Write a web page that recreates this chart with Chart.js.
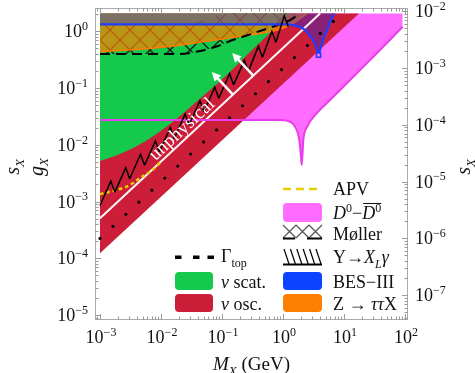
<!DOCTYPE html>
<html>
<head>
<meta charset="utf-8">
<script src="https://cdn.jsdelivr.net/npm/chart.js@4.4.0/dist/chart.umd.min.js"></script>
<style>
  html, body { margin: 0; padding: 0; background: #fff; }
  #wrap { width: 475px; height: 373px; }
</style>
</head>
<body>
<div id="wrap"><canvas id="limits" width="475" height="373"></canvas></div>
<script>
// Limits on the coupling g_X versus the mass M_X (GeV)
const G_TOP = 2.05;                 // upper edge of all shaded regions
const S_PER_G = Math.pow(10, -2.35); // right axis: s_X = g_X * S_PER_G
const M_MIN = Math.pow(10, -3.082), M_MAX = Math.pow(10, 2.049);
const G_MIN = Math.pow(10, -5.088), G_MAX = Math.pow(10, 0.41);

const xDecades = [-3, -2, -1, 0, 1, 2];
const gDecades = [0, -1, -2, -3, -4, -5];
const sDecades = [-2, -3, -4, -5, -6, -7];

// nu oscillations: lower edge of the excluded band
const oscM = [0.001, 17.6];
const oscG = [1.22e-4, 2.05];

// nu scattering
const scatM = [0.001, 0.001762, 0.00375, 0.00798, 0.01698, 0.0361, 0.0635, 0.1352, 0.2877, 0.612, 1.303];
const scatG = [0.00518, 0.00634, 0.00912, 0.01486, 0.0273, 0.0545, 0.0923, 0.1914, 0.4305, 0.931, 2.05];

// D0 - D0bar mixing
const mixM = [0.001, 0.3, 0.893, 1.151, 1.574, 1.849, 1.972, 2.027, 2.153, 2.5, 3.565, 5.89, 14.05, 38.9, 91.6];
const mixG = [0.0273, 0.0273, 0.0273, 0.0266, 0.0208, 0.01213, 0.00616, 0.0044, 0.01213, 0.0208, 0.0358, 0.0615, 0.156, 0.467, 1.202];

// Moller scattering (bound and top of the hatched band)
const mollerM = [0.001, 0.02046, 0.04355, 0.0767, 0.1352, 0.2382, 0.4198, 0.7396, 1.303, 1.901];
const mollerG = [0.397, 0.397, 0.449, 0.527, 0.673, 0.824, 1.009, 1.239, 1.578, 2.05];
const mollerTopG = [1.35, 1.35, 1.52, 1.79, 2.05, 2.05, 2.05, 2.05, 2.05, 2.05];

// Z -> tau tau X
const zM = [0.001, 0.00964, 0.0767, 0.2877, 0.798, 1.406, 2.046, 2.47];
const zG = [0.436, 0.517, 0.701, 0.859, 1.052, 1.342, 1.783, 2.05];

// BES-III
const besM = [0.001, 1.164, 1.574, 1.901, 2.296, 2.773, 3.221, 3.606, 3.819, 4.046, 4.529, 5.26, 6.12, 6.85];
const besG = [1.326, 1.326, 1.262, 1.188, 1.052, 0.825, 0.647, 0.468, 0.381, 0.468, 0.701, 1.052, 1.578, 2.05];

// Upsilon -> X_L gamma
const upsM = [0.001, 0.01, 0.1, 0.316, 0.631, 1.0, 1.259, 1.585];
const upsG = [0.000851, 0.00794, 0.0741, 0.229, 0.501, 0.891, 1.259, 2.05];

// atomic parity violation
const apvM = [0.001, 0.001132, 0.001875, 0.003105, 0.004529, 0.00661, 0.00964];
const apvG = [0.00135, 0.001393, 0.001596, 0.001954, 0.002594, 0.00335, 0.004764];

// top width bound
const topM = [0.001, 9.17];
const topG = [2.24e-4, 2.05];

// edge of the unphysical region, with its arrows
const physM = [0.001, 4.05];
const physG = [5.06e-4, 2.05];
const arrowM = [0.151, 0.326];
const arrowG = [0.0764, 0.165];

const SERIF = '"Liberation Serif", "DejaVu Serif", serif';
const pts = (ms, gs) => ms.map((m, i) => ({ x: m, y: gs[i] }));

const canvas = document.getElementById('limits');
const tile = document.createElement('canvas');
tile.width = 20; tile.height = 20;
const tc = tile.getContext('2d');
tc.strokeStyle = '#1a1a1a';
tc.lineWidth = 1.3;
tc.beginPath();
tc.moveTo(0, 0); tc.lineTo(20, 20);
tc.moveTo(20, 0); tc.lineTo(0, 20);
tc.stroke();
const crossHatch = canvas.getContext('2d').createPattern(tile, 'repeat');

const COLORS = {
  red: '#cc1e38',
  green: '#14c94c',
  pink: '#ff6cff',
  pinkLine: '#e83de8',
  blue: '#0b44ff',
  orange: '#ff7f00',
  yellow: '#e8cf00',
};

// draws text pieces side by side; kinds: n, i, sub, isub, sup, isup
function rich(ctx, parts, x, y, size, draw = true) {
  let cx = x;
  const xs = [];
  for (const [t, k] of parts) {
    const small = /sub|sup/.test(k);
    const fs = small ? Math.round(size * 0.66) : size;
    ctx.font = (k[0] === 'i' ? 'italic ' : '') + fs + 'px ' + SERIF;
    const dy = /sub/.test(k) ? size * 0.25 : /sup/.test(k) ? -size * 0.4 : 0;
    xs.push(cx);
    if (draw) ctx.fillText(t, cx, y + dy);
    cx += ctx.measureText(t).width;
  }
  xs.push(cx);
  return xs;
}
const richWidth = (ctx, parts, size) => {
  const xs = rich(ctx, parts, 0, 0, size, false);
  return xs[xs.length - 1];
};
const expLabel = (e) => [['10', 'n'], [String(e).replace('-', '\u2212'), 'sup']];

function arrow(ctx, x0, y0, x1, y1) {
  const a = Math.atan2(y1 - y0, x1 - x0);
  const hl = 9, hw = 4.5;
  ctx.beginPath();
  ctx.moveTo(x0, y0);
  ctx.lineTo(x1 - hl * 0.7 * Math.cos(a), y1 - hl * 0.7 * Math.sin(a));
  ctx.stroke();
  ctx.beginPath();
  ctx.moveTo(x1, y1);
  ctx.lineTo(x1 - hl * Math.cos(a) + hw * Math.sin(a), y1 - hl * Math.sin(a) - hw * Math.cos(a));
  ctx.lineTo(x1 - hl * Math.cos(a) - hw * Math.sin(a), y1 - hl * Math.sin(a) + hw * Math.cos(a));
  ctx.closePath();
  ctx.fill();
}

const decor = {
  id: 'decor',
  afterDatasetsDraw(chart) {
    const { ctx, chartArea: area, scales: { x, y } } = chart;
    ctx.save();
    ctx.beginPath();
    ctx.rect(area.left, area.top, area.right - area.left, area.bottom - area.top);
    ctx.clip();

    // Upsilon bound, drawn as a row of saw teeth along the curve
    const up = upsM.map((m, i) => ({ x: x.getPixelForValue(m), y: y.getPixelForValue(upsG[i]) }));
    const step = 20;
    const base = [up[0]];
    let acc = 0;
    for (let i = 1; i < up.length; i++) {
      const a = up[i - 1], b = up[i];
      const len = Math.hypot(b.x - a.x, b.y - a.y);
      let t = step - acc;
      while (t <= len) {
        base.push({ x: a.x + (b.x - a.x) * t / len, y: a.y + (b.y - a.y) * t / len });
        t += step;
      }
      acc = len - (t - step);
    }
    ctx.strokeStyle = '#000';
    ctx.lineWidth = 1.5;
    ctx.beginPath();
    for (let i = 0; i < base.length - 1; i++) {
      const b0 = base[i], b1 = base[i + 1];
      ctx.moveTo(b0.x, b0.y);
      ctx.lineTo(b1.x - 4, b1.y - 11);
      ctx.lineTo(b1.x, b1.y);
    }
    ctx.stroke();

    // unphysical region: label and arrows
    const p0 = { x: x.getPixelForValue(physM[0]), y: y.getPixelForValue(physG[0]) };
    const p1 = { x: x.getPixelForValue(physM[1]), y: y.getPixelForValue(physG[1]) };
    const ang = Math.atan2(p1.y - p0.y, p1.x - p0.x);
    const nx = Math.sin(ang), ny = -Math.cos(ang); // normal towards upper left
    ctx.fillStyle = '#fff';
    ctx.strokeStyle = '#fff';
    ctx.lineWidth = 2.5;
    arrowM.forEach((m, i) => {
      const tx = x.getPixelForValue(m), ty = y.getPixelForValue(arrowG[i]);
      arrow(ctx, tx, ty, tx + nx * 31, ty + ny * 31);
    });
    const lm = 0.028, lg = 0.01417;
    const lx = x.getPixelForValue(lm) + nx * 9, ly = y.getPixelForValue(lg) + ny * 9;
    ctx.translate(lx, ly);
    ctx.rotate(ang);
    ctx.font = '19px ' + SERIF;
    ctx.textAlign = 'center';
    ctx.textBaseline = 'middle';
    ctx.fillText('unphysical', 0, 0);
    ctx.restore();
  },
  afterDraw(chart) {
    const { ctx, chartArea: area, scales: { x, y, y2 } } = chart;
    ctx.save();

    // frame
    ctx.strokeStyle = '#ababab';
    ctx.lineWidth = 1;
    ctx.strokeRect(area.left + 0.5, area.top + 0.5, area.right - area.left - 1, area.bottom - area.top - 1);

    // inward ticks on all four sides
    const ticks = (scale, eFrom, eTo, fn) => {
      for (let e = eFrom; e <= eTo; e++) {
        for (let d = 1; d <= 9; d++) {
          const v = d * Math.pow(10, e);
          if (v < scale.min || v > scale.max) continue;
          fn(Math.round(scale.getPixelForValue(v)) + 0.5, d === 1 ? 6 : 3.5);
        }
      }
    };
    ctx.strokeStyle = '#9a9a9a';
    ctx.beginPath();
    ticks(x, -4, 2, (p, l) => {
      ctx.moveTo(p, area.bottom); ctx.lineTo(p, area.bottom - l);
      ctx.moveTo(p, area.top); ctx.lineTo(p, area.top + l);
    });
    ticks(y, -6, 0, (p, l) => { ctx.moveTo(area.left, p); ctx.lineTo(area.left + l, p); });
    ticks(y2, -8, -1, (p, l) => { ctx.moveTo(area.right, p); ctx.lineTo(area.right - l, p); });
    ctx.stroke();

    // tick labels
    ctx.fillStyle = '#111';
    ctx.textBaseline = 'alphabetic';
    ctx.textAlign = 'left';
    xDecades.forEach((e) => {
      const parts = expLabel(e);
      const w = richWidth(ctx, parts, 18);
      rich(ctx, parts, x.getPixelForValue(Math.pow(10, e)) - w / 2 + 1, 343, 18);
    });
    gDecades.forEach((e) => {
      const parts = expLabel(e);
      const w = richWidth(ctx, parts, 18);
      rich(ctx, parts, 88 - w, y.getPixelForValue(Math.pow(10, e)) + 6, 18);
    });
    sDecades.forEach((e) => {
      rich(ctx, expLabel(e), 415, y2.getPixelForValue(Math.pow(10, e)) + 6, 18);
    });

    // axis titles
    const title = [['M', 'i'], ['X', 'isub'], [' (GeV)', 'n']];
    rich(ctx, title, 251.5 - richWidth(ctx, title, 19) / 2, 370, 19);
    const vertical = (parts, cx, cy) => {
      ctx.save();
      ctx.translate(cx, cy);
      ctx.rotate(-Math.PI / 2);
      rich(ctx, parts, -richWidth(ctx, parts, 20) / 2, 0, 20);
      ctx.restore();
    };
    vertical([['s', 'i'], ['X', 'isub']], 19, 167);
    vertical([['g', 'i'], ['X', 'isub']], 43, 167);
    vertical([['s', 'i'], ['X', 'isub']], 470, 167);

    // legend
    const box = (bx, by, w, h, color) => {
      ctx.fillStyle = color;
      ctx.beginPath();
      ctx.roundRect(bx, by, w, h, 4);
      ctx.fill();
    };
    // left column
    ctx.fillStyle = '#000';
    [175, 193, 207.5].forEach((dx) => ctx.fillRect(dx, 255.5, 6.5, 3.5));
    box(175, 272, 38, 18, COLORS.green);
    box(175, 294, 38, 18, COLORS.red);
    ctx.fillStyle = '#111';
    rich(ctx, [['\u0393', 'n'], ['top', 'sub']], 221, 262, 18);
    rich(ctx, [['\u03bd', 'i'], [' scat.', 'n']], 221, 288, 18);
    rich(ctx, [['\u03bd', 'i'], [' osc.', 'n']], 221, 310, 18);

    // right column
    ctx.strokeStyle = COLORS.yellow;
    ctx.lineWidth = 2.5;
    ctx.setLineDash([8, 5]);
    ctx.beginPath(); ctx.moveTo(283, 189); ctx.lineTo(322, 189); ctx.stroke();
    ctx.setLineDash([]);
    box(283, 203, 39, 19, COLORS.pink);
    // Moller: crosses above a dashed base
    ctx.strokeStyle = '#555';
    ctx.lineWidth = 1.2;
    ctx.beginPath();
    [283, 296, 309].forEach((cx) => {
      ctx.moveTo(cx, 225); ctx.lineTo(cx + 13, 238);
      ctx.moveTo(cx + 13, 225); ctx.lineTo(cx, 238);
    });
    ctx.stroke();
    ctx.strokeStyle = '#000';
    ctx.lineWidth = 2;
    ctx.beginPath();
    ctx.moveTo(283, 238.5); ctx.lineTo(295, 238.5);
    ctx.moveTo(307, 238.5); ctx.lineTo(322, 238.5);
    ctx.stroke();
    // Upsilon: base line with hatches
    ctx.lineWidth = 1.2;
    ctx.beginPath();
    for (let i = 0; i < 6; i++) {
      const bx = 289 + i * 6.4;
      ctx.moveTo(bx - 5, 249); ctx.lineTo(bx, 264);
    }
    ctx.stroke();
    ctx.lineWidth = 2;
    ctx.beginPath(); ctx.moveTo(283, 264.5); ctx.lineTo(322, 264.5); ctx.stroke();
    box(283, 272, 39, 18, COLORS.blue);
    box(283, 294, 39, 18, COLORS.orange);

    ctx.fillStyle = '#111';
    rich(ctx, [['APV', 'n']], 333, 195, 18);
    const dd = rich(ctx, [['D', 'i'], ['0', 'sup'], ['\u2212', 'n'], ['D', 'i'], ['0', 'sup']], 333, 219, 18);
    ctx.strokeStyle = '#111';
    ctx.lineWidth = 1;
    ctx.beginPath(); ctx.moveTo(dd[3] + 1, 203.5); ctx.lineTo(dd[5], 203.5); ctx.stroke();
    rich(ctx, [['M\u00f8ller', 'n']], 333, 240, 18);
    rich(ctx, [['\u03a5\u2192', 'n'], ['X', 'i'], ['L', 'isub'], ['\u03b3', 'i']], 333, 263, 18);
    rich(ctx, [['BES\u2212III', 'n']], 333, 288, 18);
    rich(ctx, [['Z \u2192 ', 'n'], ['\u03c4\u03c4', 'i'], ['X', 'n']], 333, 310, 18);

    ctx.restore();
  },
};

const fillTop = { value: G_TOP };
const curve = { cubicInterpolationMode: 'monotone', pointRadius: 0 };

new Chart(canvas.getContext('2d'), {
  type: 'line',
  data: {
    datasets: [
      { ...curve, label: 'D0 mixing region', data: pts(mixM, mixG), fill: fillTop,
        backgroundColor: COLORS.pink, borderWidth: 0, order: 20 },
      { label: 'nu osc.', data: pts(oscM, oscG), fill: fillTop, pointRadius: 0,
        backgroundColor: COLORS.red, borderWidth: 0, order: 19 },
      { ...curve, label: 'nu scat.', data: pts(scatM, scatG), fill: fillTop,
        backgroundColor: COLORS.green, borderWidth: 0, order: 18 },
      { ...curve, label: 'Moller band', data: pts(mollerM, mollerG), fill: 4,
        backgroundColor: crossHatch, borderWidth: 0, order: 17 },
      { ...curve, label: 'Moller band top', data: pts(mollerM, mollerTopG), fill: false,
        borderWidth: 0, order: 17 },
      { ...curve, label: 'Z -> tau tau X', data: pts(zM, zG), fill: fillTop,
        backgroundColor: 'rgba(255,128,0,0.7)', borderColor: '#ff7a00', borderWidth: 1.5, order: 16 },
      { ...curve, label: 'BES-III region', data: pts(besM, besG), fill: fillTop,
        backgroundColor: 'rgba(0,40,255,0.33)', borderWidth: 0, order: 15 },
      { label: 'unphysical', data: pts(physM, physG), fill: false, pointRadius: 0,
        borderColor: '#fff6f6', borderWidth: 2, order: 14 },
      { label: 'Gamma top', data: pts(topM, topG), fill: false, pointRadius: 0,
        borderColor: '#000', borderWidth: 3.2, borderDash: [0, 17.7], borderCapStyle: 'round', order: 13 },
      { ...curve, label: 'APV', data: pts(apvM, apvG), fill: false,
        borderColor: COLORS.yellow, borderWidth: 2.5, borderDash: [3.5, 3], order: 12 },
      { ...curve, label: 'Moller', data: pts(mollerM, mollerG), fill: false,
        borderColor: '#000', borderWidth: 2, borderDash: [10, 6], order: 11 },
      { ...curve, label: 'D0 mixing', data: pts(mixM, mixG), fill: false,
        borderColor: COLORS.pinkLine, borderWidth: 2, order: 10 },
      { ...curve, label: 'BES-III', data: pts(besM, besG), fill: false,
        borderColor: '#1f3cff', borderWidth: 2.2, order: 9,
        pointRadius: (c) => (besG[c.dataIndex] === Math.min(...besG) ? 3 : 0),
        pointStyle: 'rect', pointBackgroundColor: COLORS.pink, pointBorderColor: '#1f3cff', pointBorderWidth: 1.5 },
    ],
  },
  options: {
    responsive: false,
    animation: false,
    devicePixelRatio: 1,
    events: [],
    layout: { padding: { top: 8, left: 0, right: 0, bottom: 0 } },
    plugins: { legend: { display: false }, tooltip: { enabled: false } },
    scales: {
      x: {
        type: 'logarithmic', position: 'bottom', min: M_MIN, max: M_MAX,
        grid: { display: false }, border: { display: false }, ticks: { display: false },
        afterFit: (s) => { s.height = 53; },
      },
      y: {
        type: 'logarithmic', position: 'left', min: G_MIN, max: G_MAX,
        grid: { display: false }, border: { display: false }, ticks: { display: false },
        afterFit: (s) => { s.width = 95; },
      },
      y2: {
        type: 'logarithmic', position: 'right', min: G_MIN * S_PER_G, max: G_MAX * S_PER_G,
        grid: { display: false }, border: { display: false }, ticks: { display: false },
        afterFit: (s) => { s.width = 67; },
      },
    },
  },
  plugins: [decor],
});
</script>
</body>
</html>
